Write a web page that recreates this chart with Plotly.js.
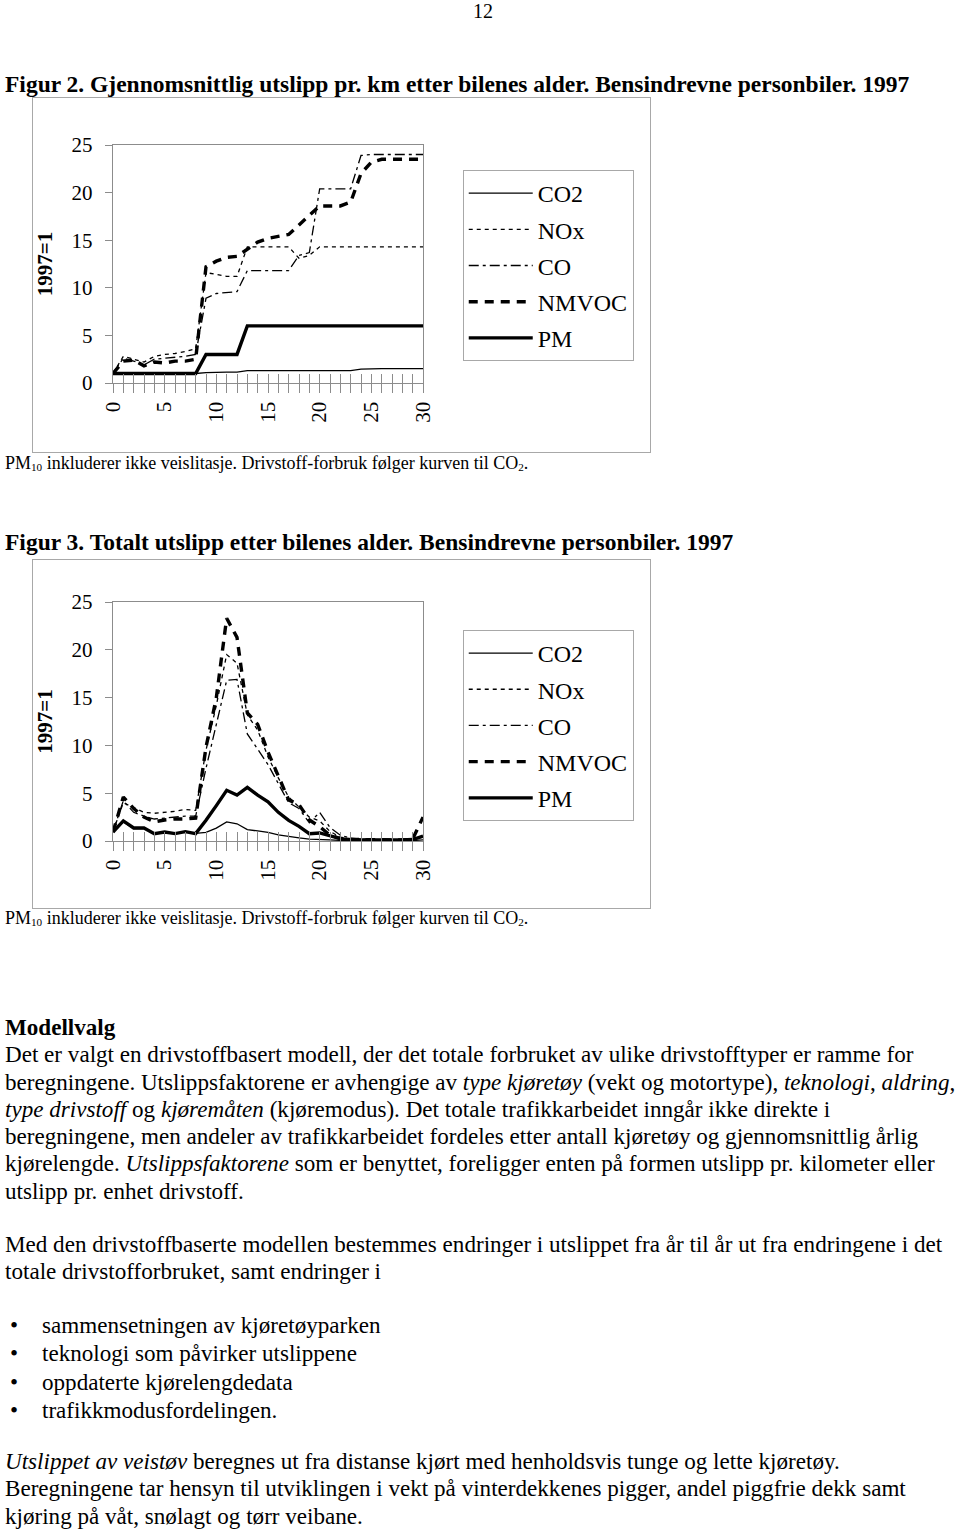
<!DOCTYPE html>
<html>
<head>
<meta charset="utf-8">
<script src="https://cdn.plot.ly/plotly-3.0.1.min.js"></script>
<style>
body{margin:0;background:#fff;color:#000;font-family:"Liberation Serif","Times New Roman",serif}
#side{position:relative;width:960px;height:1531px;overflow:hidden}
.t{position:absolute;left:5px;white-space:nowrap;font-size:23.1px;line-height:27.3px}
.b{font-weight:bold}
.ramme{position:absolute;left:32px;border:1px solid #a8a8a8}
sub{font-size:0.62em;vertical-align:-0.2em;line-height:0}
.pkt{position:absolute;left:10px}
.lin{position:absolute;left:42px}
</style>
</head>
<body>
<div id="side">
  <div class="t" style="left:473px;top:-2px;font-size:20px">12</div>

  <div class="t b" style="top:71px;font-size:23.5px">Figur 2. Gjennomsnittlig utslipp pr. km etter bilenes alder. Bensindrevne personbiler. 1997</div>
  <div class="ramme" style="top:97px"><div id="figur2"></div></div>
  <div class="t" style="top:450px;font-size:18px">PM<sub>10</sub> inkluderer ikke veislitasje. Drivstoff-forbruk følger kurven til CO<sub>2</sub>.</div>

  <div class="t b" style="top:529px;font-size:23.5px">Figur 3. Totalt utslipp etter bilenes alder. Bensindrevne personbiler. 1997</div>
  <div class="ramme" style="top:559px"><div id="figur3"></div></div>
  <div class="t" style="top:905px;font-size:18px">PM<sub>10</sub> inkluderer ikke veislitasje. Drivstoff-forbruk følger kurven til CO<sub>2</sub>.</div>

  <div class="t" style="top:1014px">
    <b>Modellvalg</b><br>
    Det er valgt en drivstoffbasert modell, der det totale forbruket av ulike drivstofftyper er ramme for<br>
    beregningene. Utslippsfaktorene er avhengige av <i>type kjøretøy</i> (vekt og motortype), <i>teknologi</i>, <i>aldring</i>,<br>
    <i>type drivstoff</i> og <i>kjøremåten</i> (kjøremodus). Det totale trafikkarbeidet inngår ikke direkte i<br>
    beregningene, men andeler av trafikkarbeidet fordeles etter antall kjøretøy og gjennomsnittlig årlig<br>
    kjørelengde. <i>Utslippsfaktorene</i> som er benyttet, foreligger enten på formen utslipp pr. kilometer eller<br>
    utslipp pr. enhet drivstoff.
  </div>

  <div class="t" style="top:1231px">
    Med den drivstoffbaserte modellen bestemmes endringer i utslippet fra år til år ut fra endringene i det<br>
    totale drivstofforbruket, samt endringer i
  </div>

  <div class="t" style="top:1312px;left:0;width:900px">
    <div style="position:relative;height:28.3px"><span class="pkt">•</span><span class="lin">sammensetningen av kjøretøyparken</span></div>
    <div style="position:relative;height:28.3px"><span class="pkt">•</span><span class="lin">teknologi som påvirker utslippene</span></div>
    <div style="position:relative;height:28.3px"><span class="pkt">•</span><span class="lin">oppdaterte kjørelengdedata</span></div>
    <div style="position:relative;height:28.3px"><span class="pkt">•</span><span class="lin">trafikkmodusfordelingen.</span></div>
  </div>

  <div class="t" style="top:1448px">
    <i>Utslippet av veistøv</i> beregnes ut fra distanse kjørt med henholdsvis tunge og lette kjøretøy.<br>
    Beregningene tar hensyn til utviklingen i vekt på vinterdekkenes pigger, andel piggfrie dekk samt<br>
    kjøring på våt, snølagt og tørr veibane.
  </div>
</div>

<script>
// bilenes alder (år)
var alder = [0,1,2,3,4,5,6,7,8,9,10,11,12,13,14,15,16,17,18,19,20,21,22,23,24,25,26,27,28,29,30];
var aksetekst = ["0","5","10","15","20","25","30"];

// Figur 2: gjennomsnittlig utslipp pr km, 1997=1
var f2_co2   = [1,1.05,1.05,1,1,1,1,1,1,1.1,1.15,1.15,1.15,1.3,1.3,1.3,1.3,1.3,1.3,1.3,1.3,1.3,1.3,1.3,1.45,1.5,1.5,1.5,1.5,1.5,1.5];
var f2_nox   = [1,2.8,2.5,2.2,2.8,3.0,3.1,3.3,3.6,11.6,11.4,11.2,11.2,14.3,14.3,14.3,14.3,14.3,13.1,13.4,14.3,14.3,14.3,14.3,14.3,14.3,14.3,14.3,14.3,14.3,14.3];
var f2_co    = [1,2.6,2.3,1.9,2.5,2.6,2.7,2.8,3.0,8.9,9.4,9.5,9.6,11.8,11.8,11.8,11.8,11.8,13.4,13.7,20.4,20.4,20.4,20.4,23.9,24,24,24,24,24,24];
var f2_nmvoc = [1,2.3,2.4,1.8,2.2,2.1,2.3,2.3,2.5,12.2,12.8,13.2,13.3,14.0,14.8,15.2,15.4,15.6,16.6,17.6,18.6,18.6,18.6,19.0,22.0,23.2,23.5,23.5,23.5,23.5,23.5];
var f2_pm    = [1,1,1,1,1,1,1,1,1,3,3,3,3,6,6,6,6,6,6,6,6,6,6,6,6,6,6,6,6,6,6];

// Figur 3: totalt utslipp, 1997=1
var f3_co2   = [0.94,2.0,1.3,1.3,0.8,0.9,0.8,0.95,0.8,0.9,1.35,2.0,1.8,1.2,1.05,0.9,0.65,0.47,0.33,0.2,0.18,0.12,0.06,0.05,0.04,0.04,0.03,0.03,0.03,0.04,0.12];
var f3_nox   = [1,4.0,3.5,3.0,2.9,3.0,3.1,3.3,3.2,9.5,14.2,19.5,18.6,13.2,11.6,8.8,6.6,4.6,3.5,2.5,2.1,1.0,0.4,0.25,0.2,0.15,0.1,0.1,0.1,0.15,0.5];
var f3_co    = [1,4.2,3.0,2.6,2.3,2.4,2.5,2.6,2.6,7.6,12.2,16.8,16.9,11.2,9.6,8.0,6.0,4.0,3.4,1.9,3.0,1.4,0.6,0.3,0.2,0.2,0.15,0.1,0.1,0.15,0.5];
var f3_nmvoc = [0.94,4.6,3.4,2.5,2.0,2.2,2.3,2.3,2.4,9.8,15.0,23.3,21.3,13.4,12.2,9.3,6.8,4.3,3.8,2.2,1.5,0.6,0.25,0.15,0.15,0.15,0.1,0.1,0.1,0.2,2.5];
var f3_pm    = [0.94,2.1,1.36,1.36,0.77,0.94,0.77,0.98,0.77,2.16,3.7,5.3,4.8,5.6,4.8,4.1,3.0,2.16,1.53,0.77,0.84,0.5,0.25,0.12,0.1,0.1,0.1,0.1,0.1,0.15,0.5];

var navn   = ["CO2","NOx","CO","NMVOC","PM"];
var strek  = ["solid","4px,4px","10px,4px,3px,4px","9px,7px","solid"];
var bredde = [1.3,1.3,1.3,3.4,3.4];

function lagSerier(verdier) {
    var spor = [];
    for (var i = 0; i < navn.length; i++) {
        spor.push({
            x: alder, y: verdier[i], name: navn[i], legendgroup: navn[i],
            mode: "lines", type: "scatter",
            line: {color: "#000", width: bredde[i], dash: strek[i]},
            hoverinfo: "skip"
        });
    }
    // tom serie for akse x2 (tick-streker innover)
    spor.push({x: [], y: [], xaxis: "x2", showlegend: false, hoverinfo: "skip"});
    return spor;
}

function lagLayout(hoyde, topp, bunn, legendY) {
    var grå = "#8c8c8c";
    var skrift = {family: "Liberation Serif, Times New Roman, serif", size: 21, color: "#000"};
    return {
        width: 617, height: hoyde,
        margin: {l: 80, r: 227, t: topp, b: bunn},
        paper_bgcolor: "#fff", plot_bgcolor: "#fff",
        font: skrift,
        showlegend: true,
        xaxis: {
            range: [0, 30], tickvals: [0,5,10,15,20,25,30], ticktext: aksetekst,
            tickangle: -90, ticks: "outside", ticklen: 9, tickcolor: grå,
            showline: true, linecolor: grå, linewidth: 1.3, mirror: true,
            showgrid: false, zeroline: false, tickfont: skrift,
            minor: {dtick: 1, ticks: "outside", ticklen: 9, tickcolor: grå, showgrid: false}
        },
        xaxis2: {
            range: [0, 30], overlaying: "x", anchor: "y", side: "bottom",
            dtick: 1, tick0: 0, ticks: "inside", ticklen: 9, tickcolor: grå,
            showticklabels: false, showgrid: false, zeroline: false, showline: false
        },
        yaxis: {
            range: [0, 25], dtick: 5, ticks: "outside", ticklen: 7, tickcolor: grå,
            showline: true, linecolor: grå, linewidth: 1.3, mirror: true,
            showgrid: false, zeroline: false, tickfont: skrift, ticklabelstandoff: 8,
            title: {text: "<b>1997=1</b>", font: {family: skrift.family, size: 21, color: "#000"}, standoff: 34}
        },
        legend: {
            xref: "container", yref: "container", x: 0.6965, y: legendY,
            xanchor: "left", yanchor: "top", maxheight: 300,
            bordercolor: "#a8a8a8", borderwidth: 1, bgcolor: "#fff",
            font: {family: skrift.family, size: 24, color: "#000"},
            traceorder: "grouped", tracegroupgap: 2, itemwidth: 64
        }
    };
}

var konfig = {staticPlot: true, displayModeBar: false};

Plotly.newPlot("figur2",
    lagSerier([f2_co2, f2_nox, f2_co, f2_nmvoc, f2_pm]),
    lagLayout(354, 47, 69, 0.7966), konfig);

Plotly.newPlot("figur3",
    lagSerier([f3_co2, f3_nox, f3_co, f3_nmvoc, f3_pm]),
    lagLayout(348, 42, 67, 0.799), konfig);
</script>
</body>
</html>
